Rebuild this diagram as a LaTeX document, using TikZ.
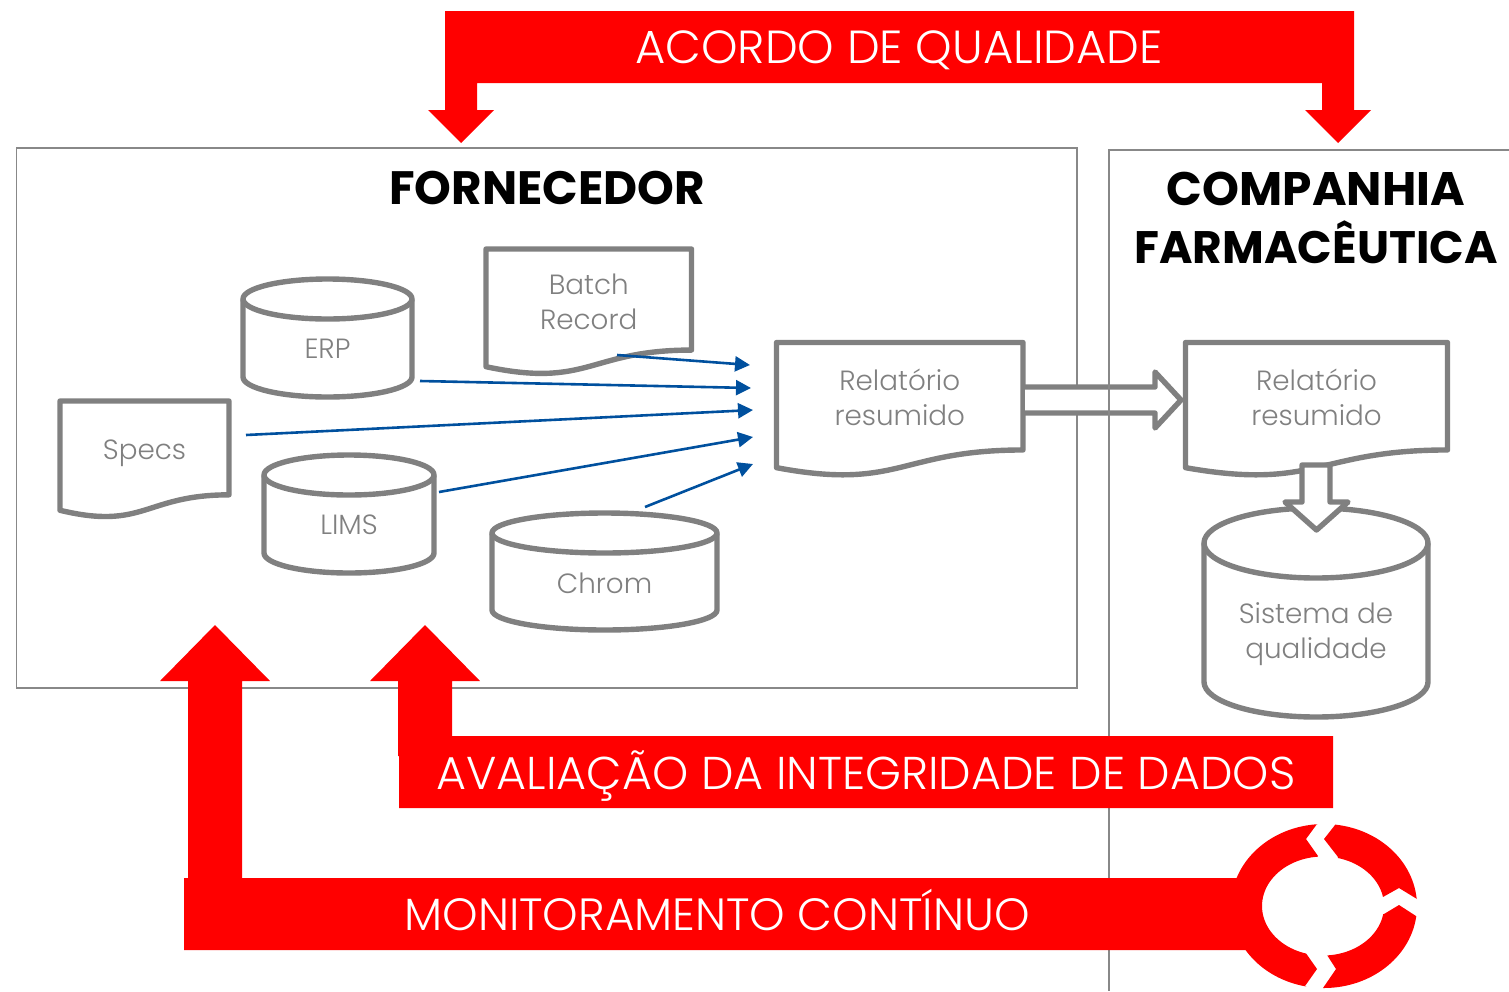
\documentclass[tikz,border=0pt]{standalone}
\usepackage{fontspec}
\setmainfont{Poppins}[UprightFont=* Light,BoldFont=* Bold]
\usetikzlibrary{arrows.meta,calc}
\definecolor{redbar}{RGB}{255,0,0}
\definecolor{shapegray}{RGB}{128,128,128}
\definecolor{frameline}{RGB}{136,136,136}
\definecolor{flowblue}{RGB}{0,80,158}
\tikzset{
  shapeline/.style={draw=shapegray,line width=5.4pt,line join=round,fill=white},
  frame/.style={draw=frameline,line width=1.6pt},
  redshape/.style={fill=redbar,draw=none},
  redlabel/.style={text=white,font=\fontsize{46}{50}\selectfont,inner sep=0pt,anchor=base},
  graylabel/.style={text=shapegray,font=\fontsize{27.8}{35}\selectfont,align=center,inner sep=0pt},
  titlelabel/.style={text=black,font=\fontsize{45.5}{58}\selectfont\bfseries,align=center,inner sep=0pt},
  flow/.style={draw=flowblue,line width=2.6pt,-{Triangle[length=15pt,width=15pt]},shorten >=0pt},
}
% name, x, y, w, h, text, text y
\newcommand{\docshape}[7]{%
  \pgfmathsetmacro{\dxr}{#2+#4}%
  \pgfmathsetmacro{\dxm}{#2+0.5*#4}%
  \pgfmathsetmacro{\dyr}{#3+0.802*#5}%
  \pgfmathsetmacro{\dyl}{#3+0.934*#5}%
  \pgfmathsetmacro{\dyc}{#3+1.1075*#5}%
  \draw[shapeline] (#2,#3) -- (\dxr,#3) -- (\dxr,\dyr) .. controls (\dxm,\dyr) and (\dxm,\dyc) .. (#2,\dyl) -- cycle;
  \node[graylabel] (#1) at (\dxm,#7) {#6};
}
% name, x, y, w, h, ry, text, text y
\newcommand{\cylshape}[8]{%
  \pgfmathsetmacro{\cxm}{#2+0.5*#4}%
  \pgfmathsetmacro{\cxr}{#2+#4}%
  \pgfmathsetmacro{\cyt}{#3+#6}%
  \pgfmathsetmacro{\cyb}{#3+#5-#6}%
  \pgfmathsetmacro{\crx}{0.5*#4}%
  \draw[shapeline] (#2,\cyt) -- (#2,\cyb)
    .. controls (#2,{\cyb+0.552*#6}) and ({\cxm-0.552*\crx},{#3+#5}) .. (\cxm,{#3+#5})
    .. controls ({\cxm+0.552*\crx},{#3+#5}) and (\cxr,{\cyb+0.552*#6}) .. (\cxr,\cyb)
    -- (\cxr,\cyt)
    .. controls (\cxr,{\cyt-0.552*#6}) and ({\cxm+0.552*\crx},#3) .. (\cxm,#3)
    .. controls ({\cxm-0.552*\crx},#3) and (#2,{\cyt-0.552*#6}) .. (#2,\cyt) -- cycle;
  \draw[shapeline,fill=none] (#2,\cyt)
    .. controls (#2,{\cyt+0.552*#6}) and ({\cxm-0.552*\crx},{#3+2*#6}) .. (\cxm,{#3+2*#6})
    .. controls ({\cxm+0.552*\crx},{#3+2*#6}) and (\cxr,{\cyt+0.552*#6}) .. (\cxr,\cyt);
  \node[graylabel] (#1) at (\cxm,#8) {#7};
}
\begin{document}
\begin{tikzpicture}[x=1pt,y=-1pt]
\useasboundingbox (0,0) rectangle (1509,991);
% frames
\draw[frame] (16.5,148) rectangle (1077,688);
\node[titlelabel,font=\fontsize{46.8}{58}\selectfont\bfseries] (fornecedor) at (547,188) {FORNECEDOR};
% shapes in supplier
\docshape{batch}{486}{249}{205.5}{126}{Batch\\Record}{302}
\cylshape{erp}{243}{279}{169}{118}{20}{ERP}{349}
\docshape{specs}{60}{401}{169}{117}{Specs}{453}
\cylshape{lims}{264}{455}{170}{118}{20}{LIMS}{525}
\cylshape{chrom}{492}{513}{225}{117}{20}{Chrom}{583}
\docshape{rel1}{776.5}{342.5}{246.5}{134}{Relatório\\resumido}{397.5}
% hollow arrow
\draw[shapeline] (1025,387) -- (1155,387) -- (1155,372) -- (1181,400) -- (1155,428) -- (1155,413) -- (1025,413);
% pharma frame
\draw[frame] (1509,150) -- (1109,150) -- (1109,991);
\node[titlelabel] (companhia) at (1316,218) {{\fontsize{47}{58}\selectfont COMPANHIA}\\FARMACÊUTICA};
\cylshape{sistema}{1204}{508}{224}{209}{35}{Sistema de\\qualidade}{634}
\docshape{rel2}{1185.5}{342.5}{262}{134}{Relatório\\resumido}{397.5}
\draw[shapeline] (1302,465) -- (1330,465) -- (1330,502) -- (1348,502) -- (1316.5,530) -- (1285,502) -- (1302,502) -- cycle;
% blue flows
\coordinate (batchout) at (617,355);  \coordinate (t1) at (750,365);
\coordinate (erpout) at (420,381);    \coordinate (t2) at (751,388);
\coordinate (specsout) at (246,435);  \coordinate (t3) at (753,410);
\coordinate (limsout) at (439,492);   \coordinate (t4) at (753,437);
\coordinate (chromout) at (645,507);  \coordinate (t5) at (753,464);
\draw[flow] (batchout) -- (t1);
\draw[flow] (erpout) -- (t2);
\draw[flow] (specsout) -- (t3);
\draw[flow] (limsout) -- (t4);
\draw[flow] (chromout) -- (t5);
% red: top
\fill[redshape] (445,11) -- (1354,11) -- (1354,110) -- (1371,110) -- (1338,143) -- (1305,110) -- (1322,110) -- (1322,83) -- (477,83) -- (477,110) -- (494,110) -- (461,143) -- (428,110) -- (445,110) -- cycle;
\node[redlabel,font=\fontsize{46.4}{50}\selectfont] (acordo) at (899,63.5) {ACORDO DE QUALIDADE};
% red: integrity
\fill[redshape] (399,736) -- (452,736) -- (452,681) -- (480,681) -- (425,625) -- (370,681) -- (398,681) -- (398,756) -- (399,756) -- (399,808) -- (1333,808) -- (1333,736) -- cycle;
\node[redlabel] (avaliacao) at (866,789) {AVALIAÇÃO DA INTEGRIDADE DE DADOS};
% red: monitoring
\fill[redshape] (184,878) -- (188,878) -- (188,681) -- (160,681) -- (215,625) -- (270,681) -- (242,681) -- (242,878) -- (1250,878) -- (1250,950) -- (184,950) -- cycle;
\node[redlabel,font=\fontsize{45.2}{50}\selectfont] (monitor) at (717,930) {MONITORAMENTO CONTÍNUO};
% cycle
\fill[redshape] (1317,824) -- (1306,839) -- (1318,856)
  -- plot[domain=265:106,samples=50,smooth] ({1323+61*cos(\x)},{906+49.5*sin(\x)})
  -- (1317,969) -- (1305,986)
  -- plot[domain=101:266,samples=50,smooth] ({1324+93*cos(\x)},{906+82*sin(\x)}) -- cycle;
\fill[redshape] (1335,825) -- (1324,839) -- (1338,857)
  -- plot[domain=-76:-10.5,samples=30,smooth] ({1323+61*cos(\x)},{906+49.5*sin(\x)})
  -- (1399,888) -- (1417,899)
  -- plot[domain=-5:-83,samples=30,smooth] ({1324+93*cos(\x)},{906+82*sin(\x)}) -- cycle;
\fill[redshape] (1416,916) -- (1399,905) -- (1384,914)
  -- plot[domain=9.3:86,samples=30,smooth] ({1323+61*cos(\x)},{906+49.5*sin(\x)})
  -- (1336,969) -- (1323,988)
  -- plot[domain=90:7,samples=30,smooth] ({1324+93*cos(\x)},{906+82*sin(\x)}) -- cycle;
\end{tikzpicture}
\end{document}
